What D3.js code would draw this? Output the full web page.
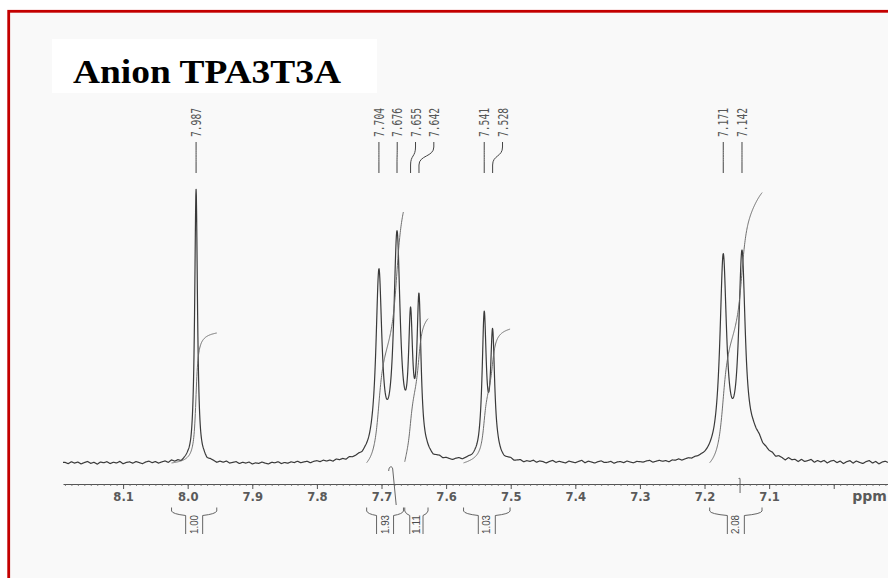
<!DOCTYPE html>
<html>
<head>
<meta charset="utf-8">
<script src="https://cdn.jsdelivr.net/npm/d3@7"></script>
<style>
  html, body { margin: 0; padding: 0; background: #ffffff; }
  svg { display: block; }
</style>
</head>
<body>
<svg id="chart" width="888" height="578"></svg>
<script>
// ---- 1H NMR data (ppm) ----
const titleText = "Anion TPA3T3A";

// Resolved lines: position (ppm), height (relative intensity), Lorentzian half-width (ppm)
const peakPpm       = [7.987, 7.704, 7.676, 7.655, 7.642, 7.541, 7.528, 7.171, 7.142, 7.120];
const peakHeight    = [100,   67,    80,    45,    55,    51.5,  44.5,  73,    72.5,  6];
const peakHalfWidth = [0.0026, 0.0056, 0.0062, 0.0039, 0.0039, 0.0039, 0.0039, 0.0062, 0.0062, 0.016];

// Peak-pick labels printed above the spectrum
const pickPpm    = [7.987, 7.704, 7.676, 7.655, 7.642, 7.541, 7.528, 7.171, 7.142];
const pickLabels = ["7.987", "7.704", "7.676", "7.655", "7.642", "7.541", "7.528", "7.171", "7.142"];

// Integration regions (ppm) and their integrals
const integralStart  = [8.025, 7.723, 7.664, 7.573, 7.192];
const integralEnd    = [7.955, 7.666, 7.628, 7.501, 7.111];
const integralValues = [1.00, 1.93, 1.11, 1.03, 2.08];
const integralLabels = ["1.00", "1.93", "1.11", "1.03", "2.08"];
const integralBreaks = [7.685, 7.145];

// Axis ticks
const majorTicks = [8.1, 8.0, 7.9, 7.8, 7.7, 7.6, 7.5, 7.4, 7.3, 7.2, 7.1, 7.0];
const tickLabels = ["8.1", "8.0", "7.9", "7.8", "7.7", "7.6", "7.5", "7.4", "7.3", "7.2", "7.1", ""];
const unitLabel  = "ppm";

// Baseline noise, one value per 0.005 ppm starting at 8.190 ppm
const noiseStart = 8.19, noiseStep = 0.005;
const baselineNoise = [
  0.2,-0.3,0.4,-0.1,0.3,-0.4,0.1,0.5,-0.2,0.2,-0.5,0.3,0.0,0.4,-0.3,0.2,-0.1,0.5,-0.4,0.1,
  0.3,-0.2,0.4,0.0,-0.4,0.2,0.5,-0.1,0.3,-0.3,0.1,0.4,-0.2,0.6,0.0,0.3,-0.4,0.2,0.5,-0.1,
  0.3,0.1,-0.2,0.4,-0.3,0.2,0.0,-0.5,0.1,-0.2,0.3,-0.4,-0.1,0.2,-0.5,0.0,-0.3,0.1,-0.6,-0.2,
  -0.4,0.1,-0.3,-0.6,0.0,-0.2,0.2,-0.5,-0.1,-0.4,0.1,-0.2,0.3,-0.3,0.0,0.2,-0.4,0.1,0.3,-0.1,
  0.4,0.0,0.3,-0.2,0.5,0.1,0.4,-0.1,0.6,0.2,0.3,0.5,0.0,0.4,0.2,0.3,0.0,-0.2,0.1,0.0,
  0.2,-0.1,0.0,0.3,-0.2,0.1,0.0,0.2,-0.3,0.1,0.4,-0.2,0.3,0.1,-0.4,0.2,0.5,-0.1,0.3,0.0,
  -0.3,0.2,0.4,-0.2,0.1,0.3,0.0,0.1,-0.2,0.2,0.0,0.1,0.3,-0.1,0.4,0.0,-0.3,0.2,0.5,-0.2,
  0.1,0.4,-0.3,0.2,0.0,0.5,-0.2,0.3,0.1,-0.4,0.2,0.6,-0.1,0.3,0.0,-0.3,0.4,0.1,-0.2,0.3,
  0.7,-0.2,0.4,0.1,-0.3,0.2,0.5,-0.1,0.0,0.3,-0.4,0.1,0.2,-0.2,0.4,0.0,-0.3,0.2,0.1,-0.1,
  0.3,0.5,-0.2,0.1,0.4,0.0,0.2,-0.3,0.3,0.1,0.5,-0.1,0.2,0.4,0.0,0.3,0.1,0.2,0.0,0.1,
  0.2,0.0,0.1,0.3,-0.1,0.0,0.2,0.1,0.0,0.2,0.3,-0.2,0.5,0.8,0.3,0.6,-0.2,0.4,0.2,0.5,
  -0.3,0.4,0.1,-0.5,0.6,0.0,0.3,-0.4,0.5,-0.2,0.2,0.7,-0.3,0.4,-0.1,0.5,-0.4,0.3,0.6,-0.2,
  0.4,-0.5,0.2,0.6,-0.3,0.5,0.0,-0.4,0.3,0.7,-0.2,0.4,-0.5,0.2,0.5,-0.1
];

// ---- scales ----
const ppmLeft = 8.193, ppmRight = 6.916;
const x = d3.scaleLinear().domain([ppmLeft, ppmRight]).range([63, 888]);
const y = d3.scaleLinear().domain([0, 100]).range([463, 190]);
const integralScale = d3.scaleLinear().domain([0, 1]).range([0, 130]);

const svg = d3.select("#chart");

// page frame
svg.append("rect").attr("x", 0).attr("y", 0).attr("width", 888).attr("height", 578).attr("fill", "#ffffff");
svg.append("rect")
  .attr("x", 8.7).attr("y", 11.3).attr("width", 900).attr("height", 600)
  .attr("fill", "#f9f9f9").attr("stroke", "#c40000").attr("stroke-width", 2.8);

// title box
svg.append("rect").attr("x", 52).attr("y", 39).attr("width", 325).attr("height", 54).attr("fill", "#ffffff");
svg.append("text")
  .attr("x", 73).attr("y", 83)
  .attr("font-family", "'Liberation Serif', 'Times New Roman', serif")
  .attr("font-weight", "bold").attr("font-size", 34.5)
  .attr("textLength", 268).attr("lengthAdjust", "spacingAndGlyphs")
  .attr("fill", "#000").text(titleText);

// ---- spectrum model ----
function lineShape(ppm) {
  let s = 0;
  for (let i = 0; i < peakPpm.length; i++) {
    const d = (ppm - peakPpm[i]) / peakHalfWidth[i];
    s += peakHeight[i] / (1 + d * d);
  }
  return s;
}
function noiseAt(ppm) {
  const t = (noiseStart - ppm) / noiseStep;
  const i = Math.max(0, Math.min(baselineNoise.length - 2, Math.floor(t)));
  const f = Math.max(0, Math.min(1, t - i));
  return baselineNoise[i] * (1 - f) + baselineNoise[i + 1] * f;
}

const step = 0.0004;
const spectrum = d3.range(ppmLeft, ppmRight - step / 2, -step).map(p => ({ ppm: p, v: lineShape(p) + noiseAt(p) }));

svg.append("path")
  .datum(spectrum)
  .attr("fill", "none").attr("stroke", "#3a3a3a").attr("stroke-width", 1.2)
  .attr("stroke-linejoin", "round")
  .attr("d", d3.line().x(d => x(d.ppm)).y(d => y(d.v)));

// ---- integral traces ----
const gInt = svg.append("g");
integralValues.forEach((val, k) => {
  const pts = d3.range(integralStart[k], integralEnd[k] - step / 2, -step);
  let acc = 0;
  const cum = pts.map(p => { acc += lineShape(p); return { ppm: p, c: acc }; });
  const total = acc;
  const base = y(0);
  gInt.append("path")
    .datum(cum)
    .attr("fill", "none").attr("stroke", "#666").attr("stroke-width", 0.95)
    .attr("d", d3.line().x(d => x(d.ppm)).y(d => base - integralScale(val * d.c / total)));
});

// ---- axis ----
const axisY = 484;
const minorTicks = d3.range(819, 691, -1).map(v => v / 100);
svg.append("g")
  .attr("transform", `translate(0,${axisY})`)
  .call(d3.axisBottom(x).tickValues(minorTicks).tickSize(2).tickSizeOuter(0).tickFormat(""))
  .call(g => g.select(".domain").attr("stroke", "#555").attr("stroke-width", 1))
  .call(g => g.selectAll(".tick line").attr("stroke", "#666").attr("stroke-width", 0.8));

const majorAxis = svg.append("g")
  .attr("transform", `translate(0,${axisY})`)
  .call(d3.axisBottom(x).tickValues(majorTicks).tickSize(5).tickSizeOuter(0)
    .tickFormat((d, i) => tickLabels[i]));
majorAxis.select(".domain").remove();
majorAxis.selectAll(".tick line").attr("stroke", "#555").attr("stroke-width", 1);
majorAxis.selectAll(".tick text")
  .attr("y", 17.2).attr("dy", 0)
  .attr("font-family", "'DejaVu Sans', sans-serif").attr("font-weight", "bold")
  .attr("font-size", 11.6).attr("fill", "#5a5a5a");

svg.append("text")
  .attr("x", 869.5).attr("y", 500.5).attr("text-anchor", "middle")
  .attr("font-family", "'DejaVu Sans', sans-serif").attr("font-weight", "bold")
  .attr("font-size", 14).attr("fill", "#5a5a5a").text(unitLabel);

// integral region split marks on the axis
integralBreaks.forEach((p, k) => {
  const bx = x(p);
  const d = k === 0
    ? `M${bx - 2.5},471 C${bx - 2.5},466 ${bx + 1},465.5 ${bx + 1.5},469 L${bx + 5},505`
    : `M${bx - 1.5},479 C${bx - 0.5},477.5 ${bx},478 ${bx},480 L${bx},493`;
  svg.append("path").attr("d", d).attr("fill", "none").attr("stroke", "#555").attr("stroke-width", 0.9);
});

// ---- integral brackets and values ----
const gBr = svg.append("g").attr("fill", "none").attr("stroke", "#555").attr("stroke-width", 0.9);
integralValues.forEach((val, k) => {
  const x1 = x(integralStart[k]), x2 = x(integralEnd[k]);
  const mid = (x1 + x2) / 2;
  const hw = Math.min(8.5, (x2 - x1) / 2 - 5);
  gBr.append("path").attr("d", `M${x1},507.5 L${x1},511 Q${x1 + 1},514 ${mid - hw},515.5 L${mid - hw},534`);
  gBr.append("path").attr("d", `M${x2},507.5 L${x2},511 Q${x2 - 1},514 ${mid + hw},515.5 L${mid + hw},534`);
  svg.append("text")
    .attr("transform", `translate(${mid + 3.6},524.5) rotate(-90)`)
    .attr("text-anchor", "middle")
    .attr("font-family", "'Liberation Sans', Arial, sans-serif")
    .attr("font-size", 10).attr("fill", "#4a4a4a")
    .attr("textLength", 19).attr("lengthAdjust", "spacingAndGlyphs")
    .text(integralLabels[k]);
});

// ---- peak-pick labels ----
const labelGap = 18.3;
const labelX = [];
pickPpm.forEach((p, i) => {
  const px = x(p);
  labelX.push(i === 0 ? px : Math.max(px, labelX[i - 1] + labelGap));
});
const gPick = svg.append("g");
pickPpm.forEach((p, i) => {
  const px = x(p), lx = labelX[i];
  gPick.append("path")
    .attr("d", `M${lx},142 L${lx},147 C${lx},157 ${px},155 ${px},165 L${px},173`)
    .attr("fill", "none").attr("stroke", "#444").attr("stroke-width", 1);
  gPick.append("text")
    .attr("transform", `translate(${lx + 5},137) rotate(-90)`)
    .attr("font-family", "'DejaVu Sans Mono', monospace")
    .attr("font-size", 13.5).attr("fill", "#555")
    .attr("textLength", 29).attr("lengthAdjust", "spacingAndGlyphs")
    .text(pickLabels[i]);
});
</script>
</body>
</html>
